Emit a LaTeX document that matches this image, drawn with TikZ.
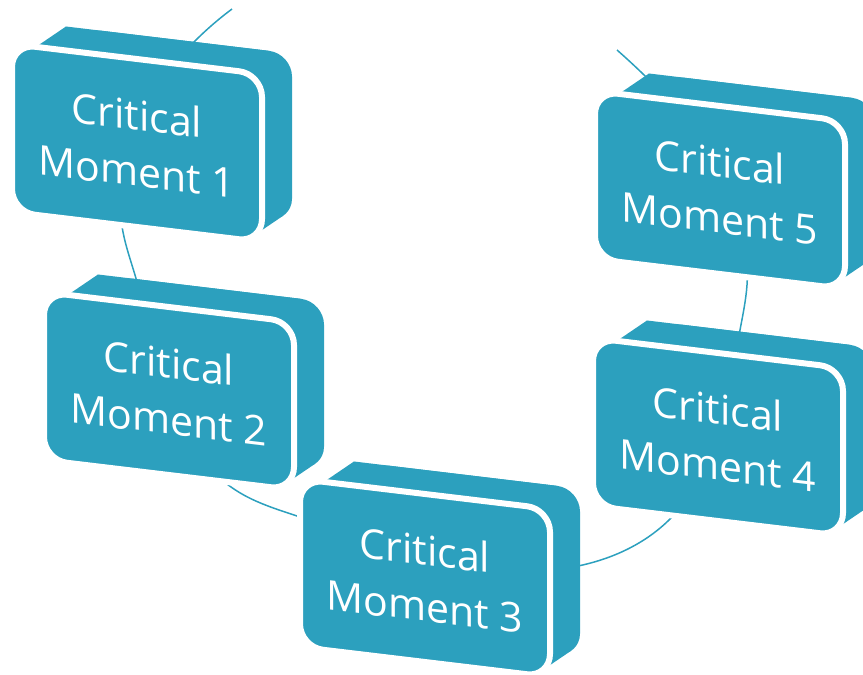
\documentclass[tikz,border=0pt]{standalone}
\usepackage{fontspec}
\setmainfont{Open Sans}
\usepackage{tikz}
\usetikzlibrary{calc,hobby}
\definecolor{cmteal}{RGB}{44,160,190}

\begin{document}
\begin{tikzpicture}[x=1pt, y=-1pt,
  ring/.style={draw=cmteal, line width=1.5pt, use Hobby shortcut},
  slab/.style={fill=cmteal},
  face/.style={fill=cmteal, draw=white, line width=6pt, rounded corners=23pt},
  moment/.style={text=white, align=center, transform shape,
    font=\fontsize{41}{56}\selectfont}]
    \useasboundingbox (0,0) rectangle (863,675);
    \clip (0,0) rectangle (863,675);
    % centres of the boxes
    \coordinate (c1) at (137,143);
    \coordinate (c2) at (169,391);
    \coordinate (c3) at (425,578);
    \coordinate (c4) at (718,437);
    \coordinate (c5) at (720,190);
    % where the ring shows between the boxes
    \coordinate (r1b) at (232,9);
    \coordinate (r1a) at (193,43);
    \coordinate (r12a) at (123,232);
    \coordinate (r12b) at (135,275);
    \coordinate (r23a) at (237,491);
    \coordinate (r23b) at (297,516);
    \coordinate (r34a) at (578,566);
    \coordinate (r34b) at (670,519);
    \coordinate (r45a) at (740,330);
    \coordinate (r45b) at (747,285);
    \coordinate (r5a) at (642,73);
    \coordinate (r5b) at (617,50);
    \draw[ring] (r1b) .. (r1a) .. (r12a) .. (r12b) .. (r23a) .. (r23b) .. (r34a)
      .. (r34b) .. (r45a) .. (r45b) .. (r5a) .. (r5b);
    \foreach \i in {1,...,5} {
      \begin{scope}[shift={(c\i)}, yslant=-0.12]
        \fill[slab, rounded corners=23pt] (-60,-108) rectangle (155,60);
        \fill[slab] (-101,-84) -- (-71,-108) -- (132,-108) -- (155,-85)
          -- (146.4,55) -- (116.4,79) -- (0,0) -- cycle;
        \draw[face] (-125,-84) rectangle (125,84);
        \node (m\i) [moment] at (0,0) {Critical\\Moment \i};
      \end{scope}
    }
\end{tikzpicture}
\end{document}
